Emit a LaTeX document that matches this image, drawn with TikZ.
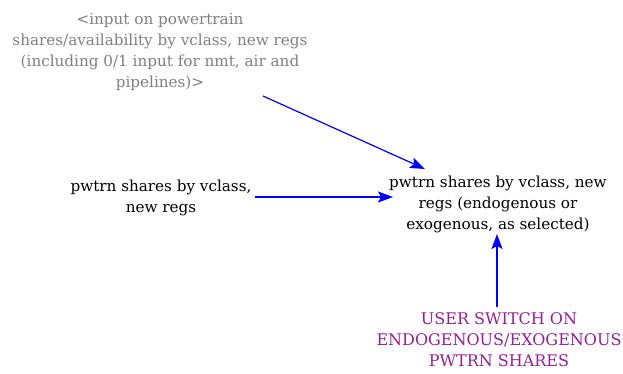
\documentclass[tikz,border=0pt]{standalone}
\usepackage{fontspec}
\setmainfont{DejaVu Serif}
\usetikzlibrary{arrows.meta}
\definecolor{inputgray}{RGB}{128,128,128}
\definecolor{switchpurple}{RGB}{150,30,150}
\definecolor{linkblue}{RGB}{0,0,255}
\tikzset{
  lbl/.style={align=center, inner sep=1pt, font=\fontsize{15.2}{21}\selectfont},
  link/.style={draw=linkblue, line width=1.2pt, -{Stealth[length=15pt,width=11pt,inset=3pt]}}
}
\begin{document}
\begin{tikzpicture}[x=1pt,y=-1pt]
  \useasboundingbox (0,0) rectangle (623,374);
  % shadow input variable
  \node[lbl, text=inputgray] (inp) at (160,52)
    {<input on powertrain\\shares/availability by vclass, new regs\\(including 0/1 input for nmt, air and\\pipelines)>};
  % exogenous shares
  \node[lbl] (exo) at (161,198) {pwtrn shares by vclass,\\new regs};
  % selected shares
  \node[lbl] (sel) at (498,204) {pwtrn shares by vclass, new\\regs (endogenous or\\exogenous, as selected)};
  % switch
  \node[lbl, text=switchpurple, font=\fontsize{16}{21}\selectfont] (sw) at (499,340) {USER SWITCH ON\\ENDOGENOUS/EXOGENOUS\\PWTRN SHARES};
  % links
  \coordinate (a1) at (263,96);
  \coordinate (t1) at (425,169);
  \draw[link] (a1) -- (t1);
  \coordinate (a2) at (255,197);
  \coordinate (t2) at (393,197);
  \draw[link] (a2) -- (t2);
  \coordinate (a3) at (497,307);
  \coordinate (t3) at (497,234);
  \draw[link] (a3) -- (t3);
\end{tikzpicture}
\end{document}
